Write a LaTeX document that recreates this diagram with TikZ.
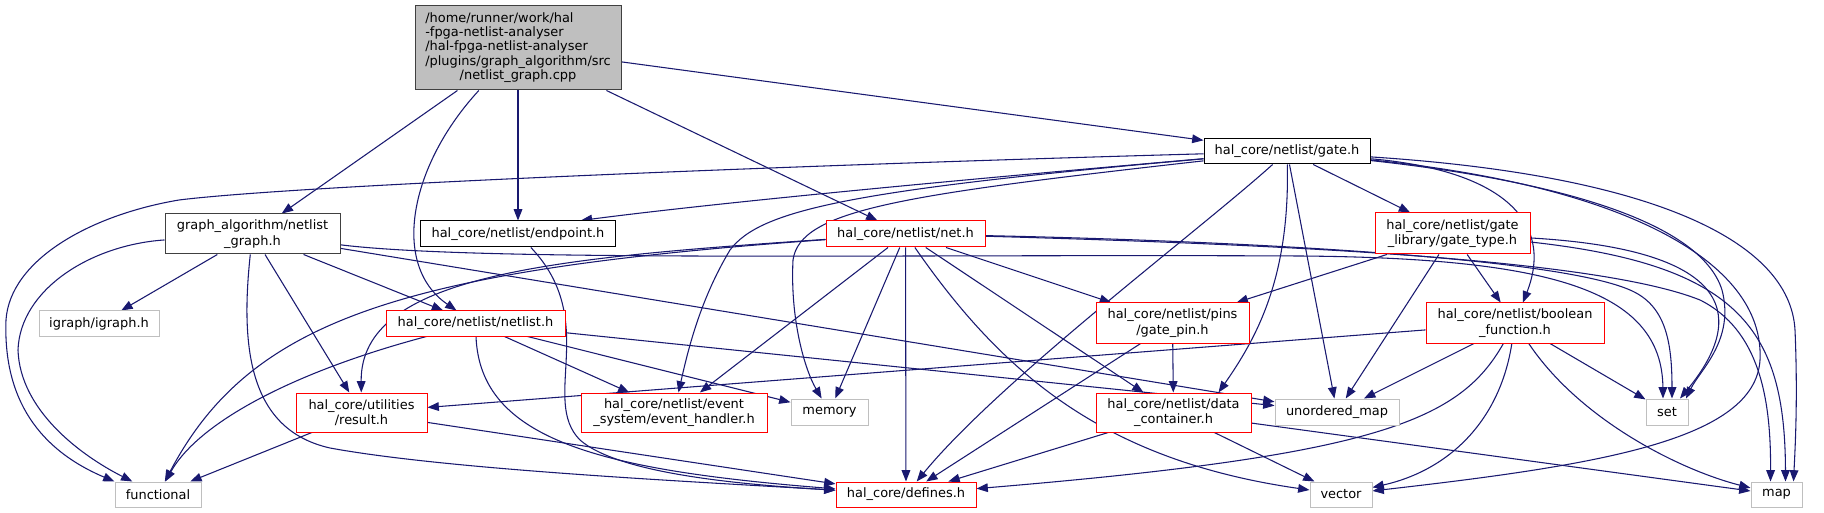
\documentclass[tikz,border=0pt]{standalone}
\usepackage{fontspec}
\setmainfont{DejaVu Sans}
\usetikzlibrary{arrows.meta,calc}
\definecolor{edgecol}{HTML}{191970}
\definecolor{grayb}{HTML}{BFBFBF}
\definecolor{redb}{HTML}{FF0000}
\definecolor{darkb}{HTML}{404040}
\definecolor{rootfill}{HTML}{BFBFBF}
\pgfdeclarelayer{bg}
\pgfsetlayers{bg,main}
\tikzset{
  box/.style={draw, line width=0.75pt, inner sep=0pt, align=center, fill=white,
    font=\fontsize{9.7}{11.6}\selectfont},
  blackbox/.style={box, draw=black},
  darkbox/.style={box, draw=darkb},
  redbox/.style={box, draw=redb},
  graybox/.style={box, draw=grayb},
  sz/.style 2 args={minimum width=#1, minimum height=#2},
  dep/.style={draw=edgecol, line width=0.8pt, -{Triangle[length=8.5pt,width=6.5pt]}}
}
\begin{document}
\begin{tikzpicture}[x=0.75pt,y=-0.75pt]
\useasboundingbox (0,0) rectangle (1824,513);
% nodes
\node[darkbox, fill=rootfill, sz={154.5pt}{63pt}] (root) at (518,48)
  {\renewcommand\arraystretch{0.93}\begin{tabular}{@{}l@{}}/home/runner/work/hal\\-fpga-netlist-analyser\\/hal-fpga-netlist-analyser\\/plugins/graph\_algorithm/src\\\multicolumn{1}{@{}c@{}}{/netlist\_graph.cpp}\end{tabular}};
\node[blackbox, sz={124.5pt}{18.75pt}] (gate) at (1287,151.5) {hal\_core/netlist/gate.h};
\node[darkbox, sz={131.25pt}{30pt}] (ga) at (252.5,234) {graph\_algorithm/netlist\\\_graph.h};
\node[blackbox, sz={145.9pt}{19.5pt}] (endpoint) at (518,234) {hal\_core/netlist/endpoint.h};
\node[redbox, sz={119.25pt}{19.5pt}] (net) at (905.5,234) {hal\_core/netlist/net.h};
\node[redbox, sz={116.25pt}{30.75pt}] (gatetype) at (1452.5,233.5) {hal\_core/netlist/gate\\\_library/gate\_type.h};
\node[graybox, sz={90pt}{18.75pt}] (igraph) at (99,323.5) {igraph/igraph.h};
\node[redbox, sz={134.25pt}{18.75pt}] (netlist) at (475.5,323.5) {hal\_core/netlist/netlist.h};
\node[redbox, sz={114.75pt}{30pt}] (gatepin) at (1172.5,323) {hal\_core/netlist/pins\\/gate\_pin.h};
\node[redbox, sz={133.5pt}{30pt}] (boolean) at (1515,323) {hal\_core/netlist/boolean\\\_function.h};
\node[redbox, sz={98.25pt}{29.25pt}] (result) at (361.5,412.5) {hal\_core/utilities\\/result.h};
\node[redbox, sz={139.5pt}{29.25pt}] (event) at (674,412.5) {hal\_core/netlist/event\\\_system/event\_handler.h};
\node[graybox, sz={57.75pt}{19.5pt}] (memory) at (829.5,412) {memory};
\node[redbox, sz={116.25pt}{29.25pt}] (dc) at (1173.5,412.5) {hal\_core/netlist/data\\\_container.h};
\node[graybox, sz={93pt}{19.5pt}] (umap) at (1337,412) {unordered\_map};
\node[graybox, sz={31.5pt}{19.5pt}] (set) at (1667,412) {set};
\node[graybox, sz={64.5pt}{18.75pt}] (func) at (158,494.5) {functional};
\node[redbox, sz={105pt}{18.75pt}] (defines) at (906,494.5) {hal\_core/defines.h};
\node[graybox, sz={46.5pt}{18.75pt}] (vector) at (1341,494.5) {vector};
\node[graybox, sz={38.25pt}{18.75pt}] (map) at (1776.5,494.5) {map};
\begin{pgfonlayer}{bg}
\fill[white] (0,0) rectangle (1824,513);
% root
\draw[dep] (root) -- (ga);
\draw[dep] (root) .. controls (410,165) and (390,265) .. (netlist);
\draw[dep] (root) -- (endpoint);
\draw[dep] (root) -- (net);
\draw[dep] (root) -- (gate);
% graph_algorithm
\draw[dep] (ga) -- (igraph);
\draw[dep] (ga) .. controls (90,245) and (20,290) .. (18,350) .. controls (20,410) and (80,455) .. (func);
\draw[dep] (ga) -- (result);
\draw[dep] (ga) -- (netlist);
\draw[dep] (ga) .. controls (240,350) and (250,430) .. (330,448) .. controls (450,470) and (700,482) .. (defines);
\draw[dep] (ga) -- (umap);
\draw[dep] (ga) .. controls (480,262) and (900,254) .. (1300,256) .. controls (1550,258) and (1662,290) .. ($(set.north)+(-4,0)$);
% netlist
\draw[dep] (netlist) .. controls (300,370) and (200,420) .. (func);
\draw[dep] (netlist) .. controls (480,440) and (600,470) .. (defines);
\draw[dep] (netlist) -- (event);
\draw[dep] (netlist) -- (memory);
\draw[dep] (netlist) -- (umap);
% endpoint
\draw[dep] (endpoint) .. controls (600,320) and (540,400) .. (580,440) .. controls (620,475) and (750,485) .. (defines);
% net
\draw[dep] (net) .. controls (550,258) and (360,275) .. (result);
\draw[dep] (net) .. controls (400,270) and (250,320) .. (func);
\draw[dep] (net) -- (event);
\draw[dep] (net) -- (memory);
\draw[dep] (net) -- (defines);
\draw[dep] (net) .. controls (1000,370) and (1100,460) .. (vector);
\draw[dep] (net) -- (dc);
\draw[dep] (net) -- (gatepin);
\draw[dep] (net) .. controls (1200,240) and (1550,255) .. (1630,290) .. controls (1665,305) and (1672,340) .. ($(set.north)+(5,0)$);
\draw[dep] (net) .. controls (1300,245) and (1600,260) .. (1700,300) .. controls (1760,330) and (1771,400) .. ($(map.north)+(-6,0)$);
% gate
\draw[dep] (gate) .. controls (800,165) and (300,185) .. (179,200) .. controls (90,215) and (10,260) .. (6,320) .. controls (3,400) and (40,450) .. (func.north west);
\draw[dep] (gate) .. controls (900,185) and (700,205) .. ($(endpoint.north east)+(-35,0)$);
\draw[dep] (gate) .. controls (850,190) and (760,210) .. (730,250) .. controls (700,300) and (688,350) .. (event);
\draw[dep] (gate) .. controls (900,195) and (800,210) .. (793,260) .. controls (790,320) and (805,370) .. (memory);
\draw[dep] (gate) .. controls (1200,230) and (1000,380) .. (defines);
\draw[dep] (gate) .. controls (1290,280) and (1255,340) .. ($(dc.north east)+(-33,0)$);
\draw[dep] (gate) -- (umap);
\draw[dep] (gate) -- (gatetype);
\draw[dep] (gate) .. controls (1500,170) and (1555,220) .. (boolean);
\draw[dep] (gate) .. controls (1550,180) and (1700,220) .. (1722,290) .. controls (1735,340) and (1700,370) .. ($(set.north)+(19,0)$);
\draw[dep] (gate) .. controls (1650,175) and (1790,240) .. (1795,330) .. controls (1798,400) and (1795,450) .. ($(map.north)+(17,0)$);
\draw[dep] (gate) .. controls (1620,185) and (1765,260) .. (1760,360) .. controls (1755,440) and (1600,465) .. (vector);
% gate_type
\draw[dep] (gatetype) -- (gatepin);
\draw[dep] (gatetype) -- (umap);
\draw[dep] (gatetype) -- (boolean);
\draw[dep] (gatetype) .. controls (1740,250) and (1745,320) .. ($(set.north)+(13,0)$);
\draw[dep] (gatetype) .. controls (1740,265) and (1785,330) .. ($(map.north)+(9,0)$);
% boolean_function
\draw[dep] (boolean) -- (result);
\draw[dep] (boolean) .. controls (1460,420) and (1380,455) .. (defines);
\draw[dep] (boolean) .. controls (1500,420) and (1450,470) .. (vector);
\draw[dep] (boolean) -- (umap);
\draw[dep] (boolean) -- (set);
\draw[dep] (boolean) .. controls (1580,420) and (1680,470) .. (map);
% gate_pin
\draw[dep] (gatepin) -- (defines);
\draw[dep] (gatepin) -- (dc);
% data_container
\draw[dep] (dc) -- (defines);
\draw[dep] (dc) -- (vector);
\draw[dep] (dc) -- (map);
% result
\draw[dep] (result) -- (func);
\draw[dep] (result) -- (defines);
\end{pgfonlayer}
\end{tikzpicture}
\end{document}
